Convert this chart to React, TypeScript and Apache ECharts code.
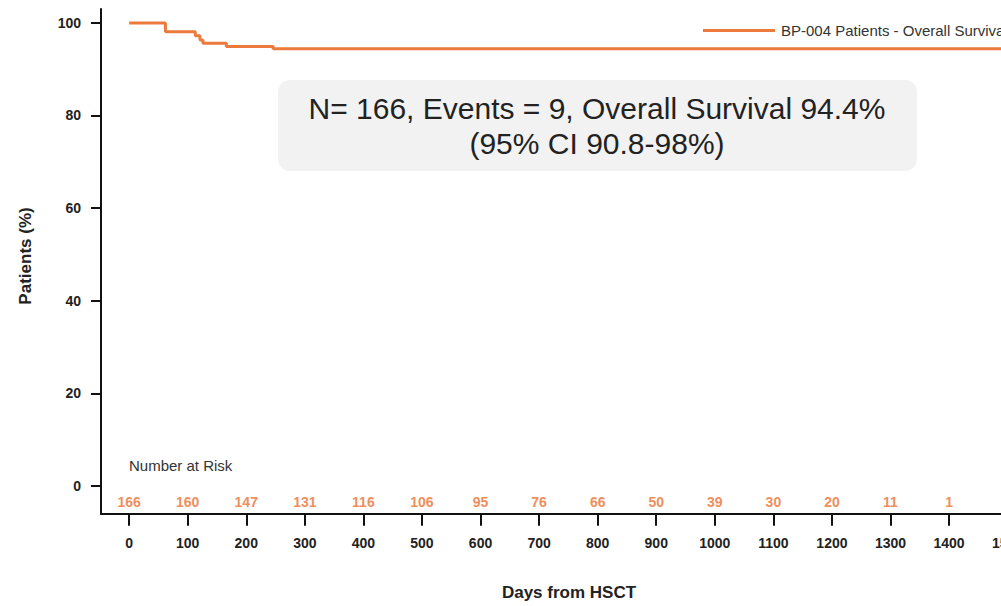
import React, { useEffect, useRef } from "react";
import * as echarts from "echarts";

const survivalDays = [0, 62, 113, 121, 126, 166, 246, 1650];
const survivalPct = [100, 98.1, 97.2, 96.3, 95.6, 94.9, 94.4, 94.4];
const seriesName = "BP-004 Patients - Overall Survival";

const xTickDays = [0, 100, 200, 300, 400, 500, 600, 700, 800, 900, 1000, 1100, 1200, 1300, 1400, 1500];
const yTickValues = [0, 20, 40, 60, 80, 100];
const riskDays = [0, 100, 200, 300, 400, 500, 600, 700, 800, 900, 1000, 1100, 1200, 1300, 1400];
const riskCounts = [166, 160, 147, 131, 116, 106, 95, 76, 66, 50, 39, 30, 20, 11, 1];

const annotationLines = ["N= 166, Events = 9, Overall Survival 94.4%", "(95% CI 90.8-98%)"];

const ORANGE = "#EC7A3C";
const FONT = "'Liberation Sans', Arial, sans-serif";

export default function App() {
  const ref = useRef<HTMLDivElement>(null);
  useEffect(() => {
    if (!ref.current) return;
    const chart = echarts.init(ref.current, undefined, { renderer: "svg" });
    const data = survivalDays.map((d, i) => [d, survivalPct[i]]);
    chart.setOption({
      animation: false,
      backgroundColor: "#ffffff",
      textStyle: { fontFamily: FONT },
      grid: { left: 101, top: 9, width: 994.5, height: 504.7, containLabel: false },
      legend: {
        show: true,
        left: 698,
        top: 18,
        icon: "rect",
        itemWidth: 72,
        itemHeight: 3,
        textStyle: { fontSize: 15, color: "#333", fontFamily: FONT, padding: [0, 0, 0, 1] },
        data: [seriesName],
      },
      xAxis: [
        {
          type: "value",
          min: -48,
          max: 1650,
          position: "bottom",
          splitLine: { show: false },
          axisLine: { show: true, onZero: false, lineStyle: { color: "#111", width: 2 } },
          axisTick: { show: true, customValues: xTickDays, length: 12, lineStyle: { color: "#111", width: 2 } },
          axisLabel: {
            customValues: xTickDays,
            margin: 22,
            fontSize: 14,
            fontWeight: "bold",
            color: "#222",
            fontFamily: FONT,
            formatter: (v: number) => String(v),
          },
        },
        {
          type: "value",
          min: -48,
          max: 1650,
          position: "bottom",
          splitLine: { show: false },
          axisLine: { show: false },
          axisTick: { show: false },
          axisLabel: {
            inside: true,
            customValues: riskDays,
            margin: 5,
            fontSize: 14,
            fontWeight: "bold",
            color: "#EE8F5E",
            fontFamily: FONT,
            formatter: (v: number) => {
              const i = riskDays.indexOf(v);
              return i >= 0 ? String(riskCounts[i]) : "";
            },
          },
        },
      ],
      yAxis: {
        type: "value",
        min: -6,
        max: 103,
        splitLine: { show: false },
        axisLine: { show: true, onZero: false, lineStyle: { color: "#111", width: 2 } },
        axisTick: { show: true, customValues: yTickValues, length: 10, lineStyle: { color: "#111", width: 2 } },
        axisLabel: {
          customValues: yTickValues,
          margin: 20,
          fontSize: 14,
          fontWeight: "bold",
          color: "#222",
          fontFamily: FONT,
        },
      },
      series: [
        {
          name: seriesName,
          type: "line",
          xAxisIndex: 0,
          step: "end",
          data,
          symbol: "none",
          showSymbol: false,
          lineStyle: { color: ORANGE, width: 3 },
          itemStyle: { color: ORANGE },
        },
      ],
      graphic: [
        {
          type: "rect",
          shape: { x: 278, y: 80, width: 639, height: 91, r: 12 },
          style: { fill: "#F2F2F2" },
          z: 10,
        },
        {
          type: "text",
          x: 597,
          y: 126,
          z: 11,
          style: {
            text: annotationLines.join("\n"),
            fontSize: 30,
            lineHeight: 35,
            fontFamily: FONT,
            fill: "#222",
            align: "center",
            verticalAlign: "middle",
          },
        },
        {
          type: "text",
          x: 129,
          y: 465,
          style: {
            text: "Number at Risk",
            fontSize: 15,
            fontFamily: FONT,
            fill: "#333",
            align: "left",
            verticalAlign: "middle",
          },
        },
        {
          type: "text",
          x: 569,
          y: 592,
          style: {
            text: "Days from HSCT",
            fontSize: 17,
            fontWeight: "bold",
            fontFamily: FONT,
            fill: "#222",
            align: "center",
            verticalAlign: "middle",
          },
        },
        {
          type: "text",
          x: 25,
          y: 256,
          rotation: Math.PI / 2,
          style: {
            text: "Patients (%)",
            fontSize: 17,
            fontWeight: "bold",
            fontFamily: FONT,
            fill: "#222",
            align: "center",
            verticalAlign: "middle",
          },
        },
      ],
    });
    return () => chart.dispose();
  }, []);
  return (
    <div style={{ position: "fixed", left: 0, top: 0, width: 1001, height: 606, overflow: "hidden" }}>
      <div ref={ref} style={{ width: 1110, height: 606 }} />
    </div>
  );
}
